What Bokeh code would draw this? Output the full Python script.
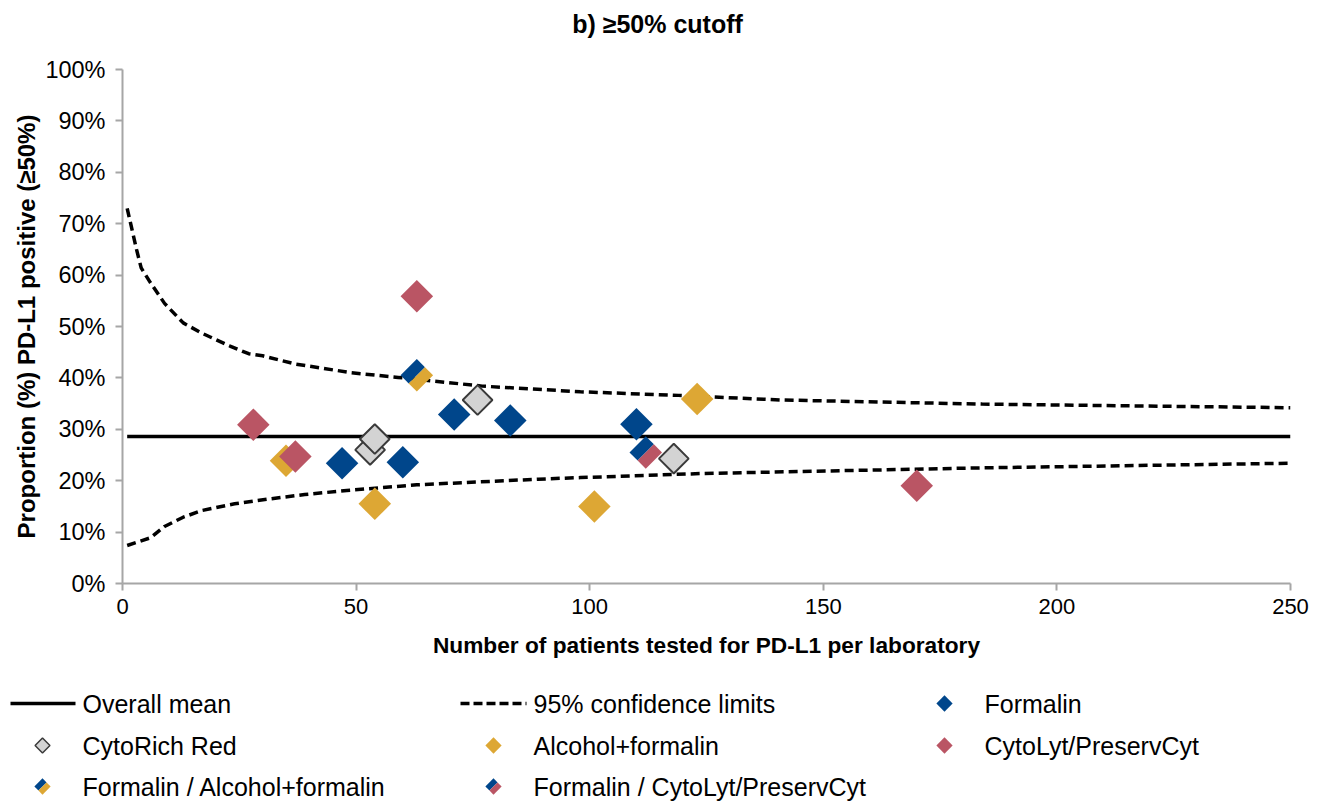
import math
from bokeh.plotting import figure
from bokeh.models import Range1d, FixedTicker, NumeralTickFormatter
from bokeh.embed import file_html
from bokeh.resources import INLINE
from bokeh.core.properties import value

# ---------------- data ----------------
formalin_n = [47, 60, 71, 83, 110]
formalin_p = [0.234, 0.236, 0.329, 0.317, 0.310]

cytorich_n = [53, 54, 76, 118]
cytorich_p = [0.260, 0.281, 0.357, 0.243]

alcohol_n = [35, 54, 101, 123]
alcohol_p = [0.239, 0.155, 0.150, 0.359]

cytolyt_n = [28, 37, 63, 170]
cytolyt_p = [0.309, 0.247, 0.559, 0.190]

form_alc_n = [63]
form_alc_p = [0.405]

form_cyto_n = [112]
form_cyto_p = [0.255]

mean_n = [1, 250]
mean_p = 0.286

ci_upper_n = [1, 3, 4, 6, 9, 13, 17, 23, 27, 30, 37, 49, 59, 77, 98, 119, 141, 184, 250]
ci_upper_p = [0.730, 0.650, 0.614, 0.585, 0.545, 0.507, 0.487, 0.462, 0.447, 0.443, 0.427,
              0.410, 0.401, 0.384, 0.373, 0.366, 0.357, 0.349, 0.342]

ci_lower_n = [1, 4, 6, 9, 13, 17, 24, 31, 39, 48, 55, 63, 89, 98, 124, 184, 250]
ci_lower_p = [0.074, 0.083, 0.089, 0.111, 0.129, 0.142, 0.155, 0.164, 0.173, 0.181, 0.186,
              0.192, 0.203, 0.206, 0.214, 0.225, 0.234]

x_ticks = [0, 50, 100, 150, 200, 250]
y_ticks = [0.0, 0.1, 0.2, 0.3, 0.4, 0.5, 0.6, 0.7, 0.8, 0.9, 1.0]

title_text = "b) \u226550% cutoff"
x_label = "Number of patients tested for PD-L1 per laboratory"
y_label = "Proportion (%) PD-L1 positive (\u226550%)"
legend_labels = ["Overall mean", "95% confidence limits", "Formalin",
                 "CytoRich Red", "Alcohol+formalin", "CytoLyt/PreservCyt",
                 "Formalin / Alcohol+formalin", "Formalin / CytoLyt/PreservCyt"]

# ---------------- style ----------------
BLUE = "#00468B"
YELLOW = "#DDA734"
RED = "#BA5564"
GRAY_FILL = "#D3D3D3"
GRAY_LINE = "#3A3A3A"
AXIS = "#A6A6A6"
FONT = "Liberation Sans"

W = 1323
TH = 40                      # title strip height
BL, BT = 122, 69 - TH
FRAME_W, FRAME_H = 1168, 514
BR = W - BL - FRAME_W
BB = 92
H_MAIN = BT + FRAME_H + BB
TOP_MAIN = TH                # page y of the main figure
H_LEG = 802 - TH - H_MAIN
TOP_LEG = TH + H_MAIN

X0, X1 = 0, 250
Y0, Y1 = 0.0, 1.0
MS = 23  # marker side in px
ANG = math.pi / 4


def blank(height):
    f = figure(width=W, height=height, x_range=Range1d(0, W), y_range=Range1d(0, height),
               output_backend="svg", toolbar_location=None, min_border=0,
               x_axis_type=None, y_axis_type=None)
    f.outline_line_color = None
    f.grid.visible = False
    return f


# ---------------- title strip ----------------
tt = blank(TH)
tt.text([657], [TH - 23], text=[title_text], text_font=value(FONT),
        text_font_size=value("25px"), text_font_style="bold",
        text_align="center", text_baseline="middle", text_color="black")

# ---------------- main plot ----------------
p = figure(width=W, height=H_MAIN, x_range=Range1d(X0, X1), y_range=Range1d(Y0, Y1),
           output_backend="svg", toolbar_location=None,
           min_border_left=BL, min_border_right=BR, min_border_top=BT, min_border_bottom=BB)
p.outline_line_color = None
p.grid.visible = False
p.background_fill_color = "white"

p.xaxis.axis_label = x_label
p.yaxis.axis_label = y_label
p.xaxis.ticker = FixedTicker(ticks=x_ticks)
p.yaxis.ticker = FixedTicker(ticks=y_ticks)
p.yaxis.formatter = NumeralTickFormatter(format="0%")
for ax in (p.xaxis[0], p.yaxis[0]):
    ax.axis_line_color = AXIS
    ax.axis_line_width = 2
    ax.major_tick_line_color = AXIS
    ax.major_tick_line_width = 2
    ax.major_tick_out = 7
    ax.major_tick_in = 0
    ax.minor_tick_line_color = None
    ax.major_label_text_font = FONT
    ax.major_label_text_color = "black"
    ax.axis_label_text_font = FONT
    ax.axis_label_text_font_style = "bold"
    ax.axis_label_text_color = "black"
p.xaxis.major_label_text_font_size = "22px"
p.yaxis.major_label_text_font_size = "23.5px"
p.xaxis.axis_label_text_font_size = "22.7px"
p.yaxis.axis_label_text_font_size = "24px"
p.xaxis.major_label_standoff = 8
p.yaxis.major_label_standoff = 10
p.xaxis.axis_label_standoff = 15
p.yaxis.axis_label_standoff = 2

# lines
p.line(mean_n, [mean_p] * len(mean_n), line_color="black", line_width=3.5)
p.line(ci_upper_n, ci_upper_p, line_color="black", line_width=3.5, line_dash="9 5")
p.line(ci_lower_n, ci_lower_p, line_color="black", line_width=3.5, line_dash="9 5")

kx = FRAME_W / (X1 - X0)
ky = FRAME_H / (Y1 - Y0)


def split_polys(cx, cy, side, sx, sy):
    """Two halves of a 45-degree rotated square: upper-left and lower-right."""
    h = side / math.sqrt(2)
    L = (-h, 0); T = (0, h); R = (h, 0); B = (0, -h)
    mtr = (h / 2, h / 2); mlb = (-h / 2, -h / 2)
    a = [L, T, mtr, mlb]
    b = [mtr, R, B, mlb]
    conv = lambda pts: ([cx + dx / sx for dx, dy in pts], [cy + dy / sy for dx, dy in pts])
    return conv(a), conv(b)


def draw_split(fig, ns, ps, c1, c2, side, sx, sy):
    xs1, ys1, xs2, ys2 = [], [], [], []
    for n, v in zip(ns, ps):
        (ax_, ay_), (bx_, by_) = split_polys(n, v, side, sx, sy)
        xs1.append(ax_); ys1.append(ay_); xs2.append(bx_); ys2.append(by_)
    fig.patches(xs1, ys1, fill_color=c1, line_color=None)
    fig.patches(xs2, ys2, fill_color=c2, line_color=None)


p.scatter(formalin_n, formalin_p, marker="square", size=MS, angle=ANG,
          fill_color=BLUE, line_color=None)
draw_split(p, form_alc_n, form_alc_p, BLUE, YELLOW, MS, kx, ky)
draw_split(p, form_cyto_n, form_cyto_p, BLUE, RED, MS, kx, ky)
p.scatter(alcohol_n, alcohol_p, marker="square", size=MS, angle=ANG,
          fill_color=YELLOW, line_color=None)
p.scatter(cytolyt_n, cytolyt_p, marker="square", size=MS, angle=ANG,
          fill_color=RED, line_color=None)
p.scatter(cytorich_n, cytorich_p, marker="square", size=MS - 2, angle=ANG,
          fill_color=GRAY_FILL, line_color=GRAY_LINE, line_width=2)

# ---------------- legend strip (pixel coordinates) ----------------
lg = blank(H_LEG)
rows = [H_LEG - (703 - TOP_LEG), H_LEG - (745 - TOP_LEG), H_LEG - (786 - TOP_LEG)]
LS = 11.5  # legend marker side
# row 1
lg.line([10, 75], [rows[0], rows[0]], line_color="black", line_width=3.5)
lg.line([460, 526], [rows[0], rows[0]], line_color="black", line_width=3.5, line_dash="9 4")
lg.scatter([944], [rows[0]], marker="square", size=LS, angle=ANG, fill_color=BLUE, line_color=None)
# row 2
lg.scatter([42], [rows[1]], marker="square", size=LS - 1, angle=ANG,
           fill_color=GRAY_FILL, line_color=GRAY_LINE, line_width=1.5)
lg.scatter([493], [rows[1]], marker="square", size=LS, angle=ANG, fill_color=YELLOW, line_color=None)
lg.scatter([944], [rows[1]], marker="square", size=LS, angle=ANG, fill_color=RED, line_color=None)
# row 3
draw_split(lg, [42], [rows[2]], BLUE, YELLOW, LS, 1, 1)
draw_split(lg, [493], [rows[2]], BLUE, RED, LS, 1, 1)

lx = [82, 533, 984, 82, 533, 984, 82, 533]
ly = [rows[0], rows[0], rows[0], rows[1], rows[1], rows[1], rows[2], rows[2]]
lg.text(lx, ly, text=legend_labels, text_font=value(FONT), text_font_size=value("25px"),
        text_baseline="middle", text_align="left", text_color="black")

open("out.html", "w").write(file_html([tt, p, lg], INLINE))
